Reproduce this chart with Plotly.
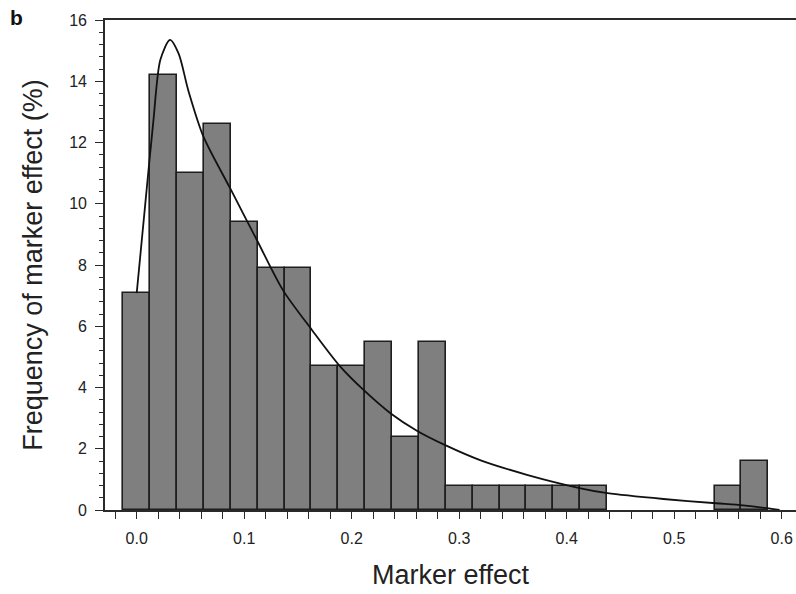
import plotly.graph_objects as go

# Histogram of marker effects (bin width 0.025, centred on multiples of 0.025)
bin_centers = [0.000, 0.025, 0.050, 0.075, 0.100, 0.125, 0.150, 0.175, 0.200,
               0.225, 0.250, 0.275, 0.300, 0.325, 0.350, 0.375, 0.400, 0.425,
               0.550, 0.575]
frequency_pct = [7.1, 14.2, 11.0, 12.6, 9.4, 7.9, 7.9, 4.7, 4.7,
                 5.5, 2.4, 5.5, 0.8, 0.8, 0.8, 0.8, 0.8, 0.8,
                 0.8, 1.6]
bin_width = 0.025

# Fitted density curve
curve_x = [0.000, 0.0077, 0.0155, 0.022, 0.031, 0.039, 0.048, 0.062, 0.087,
           0.112, 0.136, 0.163, 0.189, 0.211, 0.236, 0.261, 0.288, 0.320,
           0.363, 0.413, 0.438, 0.490, 0.539, 0.564, 0.586, 0.598]
curve_y = [7.08, 9.9, 12.7, 14.7, 15.35, 14.9, 13.7, 12.2, 10.5,
           8.8, 7.18, 5.88, 4.7, 3.92, 3.16, 2.58, 2.1, 1.62,
           1.15, 0.71, 0.55, 0.36, 0.22, 0.15, 0.06, 0.0]

x_tick_vals = [0.0, 0.1, 0.2, 0.3, 0.4, 0.5, 0.6]
x_tick_text = ["0.0", "0.1", "0.2", "0.3", "0.4", "0.5", "0.6"]
y_tick_vals = [0, 2, 4, 6, 8, 10, 12, 14, 16]

FONT = "Liberation Sans, Arial, Helvetica, sans-serif"
AXIS_COLOR = "#2a2a2a"

fig = go.Figure()

fig.add_trace(go.Bar(
    x=bin_centers,
    y=frequency_pct,
    width=[bin_width] * len(bin_centers),
    marker=dict(color="#7f7f7f", line=dict(color="#1e1e1e", width=1.6)),
    showlegend=False,
    hoverinfo="x+y",
))

fig.add_trace(go.Scatter(
    x=curve_x,
    y=curve_y,
    mode="lines",
    line=dict(color="#111111", width=1.8, shape="spline", smoothing=0.8),
    showlegend=False,
    hoverinfo="skip",
))

fig.update_layout(
    width=796,
    height=594,
    margin=dict(l=105, r=0, t=20, b=84),
    paper_bgcolor="white",
    plot_bgcolor="white",
    font=dict(family=FONT, color="#222222"),
    bargap=0,
    annotations=[dict(
        text="<b>b</b>", xref="paper", yref="paper",
        x=-0.128, y=1.005, xanchor="center", yanchor="middle",
        showarrow=False, font=dict(family=FONT, size=21, color="#111111"),
    )],
)

fig.update_xaxes(
    range=[-0.0295, 0.6133],
    showgrid=False, zeroline=False,
    showline=True, linecolor=AXIS_COLOR, linewidth=1.6, mirror=True,
    ticks="outside", ticklen=7, tickwidth=1.3, tickcolor=AXIS_COLOR,
    tickvals=x_tick_vals, ticktext=x_tick_text,
    ticklabelstandoff=6,
    tickfont=dict(family=FONT, size=16, color="#222222"),
    minor=dict(dtick=0.02, tick0=0, ticks="outside", ticklen=7,
               tickwidth=1.3, tickcolor=AXIS_COLOR, showgrid=False),
    title=dict(text="Marker effect", standoff=19,
               font=dict(family=FONT, size=27, color="#222222")),
)

fig.update_yaxes(
    range=[0, 16],
    showgrid=False, zeroline=False,
    showline=True, linecolor=AXIS_COLOR, linewidth=1.6,
    ticks="outside", ticklen=8, tickwidth=1.3, tickcolor=AXIS_COLOR,
    tickvals=y_tick_vals,
    ticklabelstandoff=5,
    tickfont=dict(family=FONT, size=16, color="#222222"),
    minor=dict(dtick=0.4, tick0=0, ticks="outside", ticklen=4,
               tickwidth=1.2, tickcolor=AXIS_COLOR, showgrid=False),
    title=dict(text="Frequency of marker effect (%)", standoff=19,
               font=dict(family=FONT, size=27, color="#222222")),
)

fig.write_html("out.html")
